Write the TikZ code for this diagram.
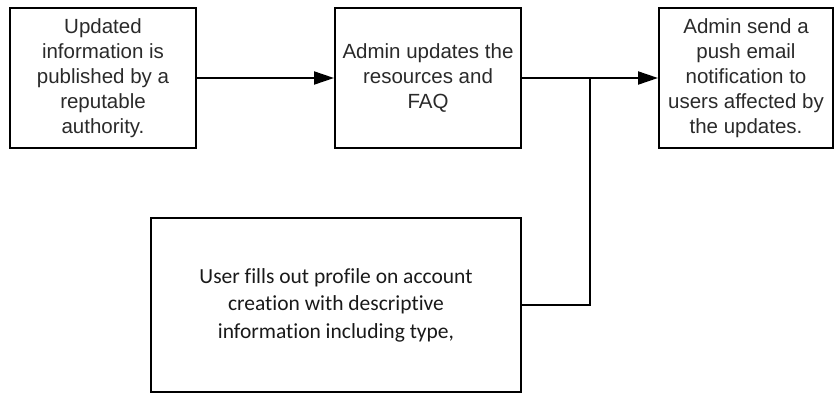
\documentclass[tikz,border=0pt]{standalone}
\usepackage{fontspec}
\setmainfont{Liberation Sans}
\newfontfamily\calfont[Ligatures=NoCommon]{Carlito}
\usetikzlibrary{arrows.meta}
\definecolor{txt}{HTML}{2A2A2A}
\tikzset{
  box/.style={draw=black, line width=2pt, rectangle, align=center, text=txt,
    inner sep=0pt, font=\fontsize{20.5}{25}\selectfont},
  conn/.style={line width=2pt, draw=black},
  arr/.style={conn, -{Triangle[length=20pt,width=13pt]}}
}
\begin{document}
\begin{tikzpicture}[x=1pt,y=-1pt]
\useasboundingbox (0,0) rectangle (837,394);
\node[box, minimum width=186pt, minimum height=140pt] (b1) at (103,78)
  {Updated\\information is\\published by a\\reputable\\authority.};
\node[box, minimum width=186pt, minimum height=140pt] (b2) at (428,78)
  {Admin updates the\\resources and\\FAQ};
\node[box, minimum width=174pt, minimum height=140pt] (b3) at (746,78)
  {Admin send a\\push email\\notification to\\users affected by\\the updates.};
\node[box, minimum width=370pt, minimum height=174pt, text=black!90,
  font=\calfont\fontsize{21.5}{27.5}\selectfont] (b4) at (336,305)
  {User fills out profile on account\\creation with descriptive\\information including type,};
\coordinate (j) at (590,78);
\draw[arr] (b1.east) -- (b2.west);
\draw[arr] (b2.east) -- (b3.west);
\draw[conn] (b4.east) -| (j);
\end{tikzpicture}
\end{document}
